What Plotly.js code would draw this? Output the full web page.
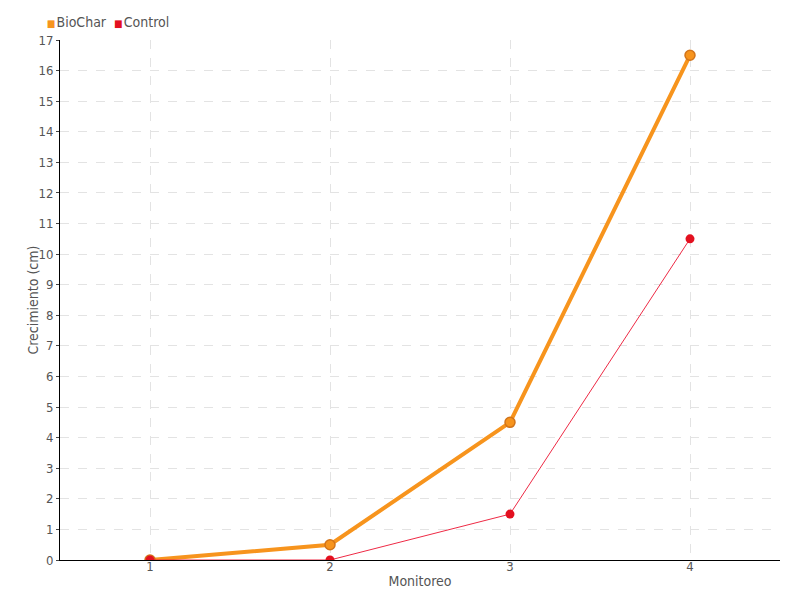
<!DOCTYPE html>
<html>
<head>
<meta charset="utf-8">
<script src="https://cdn.plot.ly/plotly-3.0.1.min.js"></script>
<style>
html,body{margin:0;padding:0;background:#fff;}
.main-svg text{font-stretch:condensed !important;}
</style>
</head>
<body>
<div id="chart" style="width:800px;height:600px;"></div>
<script>
const categories = ["1", "2", "3", "4"];
const biochar = [0, 0.5, 4.5, 16.5];
const control = [0, 0, 1.5, 10.5];
const yTicks = [0,1,2,3,4,5,6,7,8,9,10,11,12,13,14,15,16,17];
const seriesNames = ["BioChar", "Control"];
const seriesColors = ["#f7941d", "#e3101f"];
const xTitle = "Monitoreo";
const yTitle = "Crecimiento (cm)";

const FONT = '"DejaVu Sans", sans-serif';

const traces = [
  {
    name: seriesNames[0],
    x: categories, y: biochar,
    type: "scatter", mode: "lines+markers", showlegend: false,
    line: {color: seriesColors[0], width: 4},
    marker: {color: seriesColors[0], size: 10, line: {color: "#d2741a", width: 1.5}}
  },
  {
    name: seriesNames[1],
    x: categories, y: control,
    type: "scatter", mode: "lines+markers", showlegend: false,
    line: {color: "#ee2a45", width: 1},
    marker: {color: seriesColors[1], size: 9, line: {width: 0}}
  }
];

const legendText = seriesNames.map((n, i) =>
  '<span style="color:' + seriesColors[i] + ';font-size:10px">■</span><span style="font-size:4px"> </span>' + n
).join('  ');

const layout = {
  width: 800, height: 600,
  margin: {l: 60, r: 20, t: 40, b: 40, autoexpand: false},
  paper_bgcolor: "#fff", plot_bgcolor: "#fff",
  font: {family: FONT, size: 13, color: "#555"},
  showlegend: false,
  annotations: [
    {
      text: legendText, xref: "paper", yref: "paper",
      x: -0.03, y: 1.035, xanchor: "left", yanchor: "middle",
      showarrow: false, font: {family: FONT, size: 14, color: "#555"}
    },
    {
      text: xTitle, xref: "paper", yref: "paper",
      x: 0.5, y: -0.04, xanchor: "center", yanchor: "middle",
      showarrow: false, font: {family: FONT, size: 14, color: "#555"}
    },
    {
      text: yTitle, xref: "paper", yref: "paper", textangle: -90,
      x: -0.038, y: 0.5, xanchor: "center", yanchor: "middle",
      showarrow: false, font: {family: FONT, size: 14, color: "#555"}
    }
  ],
  xaxis: {
    type: "category",
    range: [-0.5, 3.5],
    showline: true, linecolor: "#000", linewidth: 1,
    ticks: "", ticklabelstandoff: -6,
    tickfont: {family: FONT, size: 13, color: "#555"},
    showgrid: true, gridcolor: "#e3e3e3", griddash: "dash", gridwidth: 1,
    zeroline: false
  },
  yaxis: {
    range: [0, 17],
    tickvals: yTicks,
    showline: true, linecolor: "#000", linewidth: 1,
    ticks: "outside", ticklen: 3, tickcolor: "#444",
    tickfont: {family: FONT, size: 13, color: "#555"},
    showgrid: true, gridcolor: "#e3e3e3", griddash: "dash", gridwidth: 1,
    zeroline: false
  }
};

Plotly.newPlot("chart", traces, layout, {displayModeBar: false});
</script>
</body>
</html>
